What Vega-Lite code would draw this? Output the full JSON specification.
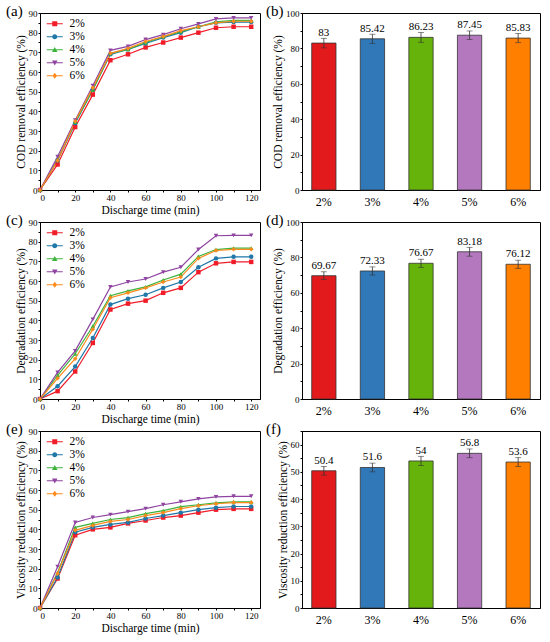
{
  "$schema": "https://vega.github.io/schema/vega-lite/v6.json",
  "background": "white",
  "padding": {"left": 5, "top": 3, "right": 4, "bottom": 4},
  "config": {
    "font": "Liberation Serif",
    "view": {"stroke": "#000", "strokeWidth": 1},
    "axis": {
      "grid": false, "domainColor": "#000", "tickColor": "#000", "labelColor": "#000", "titleColor": "#000",
      "labelFont": "Liberation Serif", "titleFont": "Liberation Serif", "labelFontSize": 9, "titleFontSize": 11.5,
      "titleFontWeight": "normal", "tickSize": 2, "labelPadding": 1, "titlePadding": 2, "labelOverlap": false
    },
    "legend": {
      "orient": "none", "legendX": 9, "legendY": 5, "labelFont": "Liberation Serif", "labelFontSize": 11.5,
      "labelFontWeight": "normal", "symbolSize": 100, "labelOffset": 9, "rowPadding": 0, "labelColor": "#000",
      "symbolStrokeWidth": 0
    },
    "title": {"font": "Liberation Serif", "fontWeight": "normal", "fontSize": 15, "color": "#000"}
  },
  "datasets": {
    "lines": [
      {"p": "a", "c": "2%", "t": 0, "v": 0}, {"p": "a", "c": "2%", "t": 10, "v": 13}, {"p": "a", "c": "2%", "t": 20, "v": 32}, {"p": "a", "c": "2%", "t": 30, "v": 48.5}, {"p": "a", "c": "2%", "t": 40, "v": 66}, {"p": "a", "c": "2%", "t": 50, "v": 69}, {"p": "a", "c": "2%", "t": 60, "v": 72.5}, {"p": "a", "c": "2%", "t": 70, "v": 75}, {"p": "a", "c": "2%", "t": 80, "v": 77.5}, {"p": "a", "c": "2%", "t": 90, "v": 80}, {"p": "a", "c": "2%", "t": 100, "v": 82.5}, {"p": "a", "c": "2%", "t": 110, "v": 83}, {"p": "a", "c": "2%", "t": 120, "v": 83},
      {"p": "a", "c": "3%", "t": 0, "v": 0}, {"p": "a", "c": "3%", "t": 10, "v": 15}, {"p": "a", "c": "3%", "t": 20, "v": 34}, {"p": "a", "c": "3%", "t": 30, "v": 51}, {"p": "a", "c": "3%", "t": 40, "v": 69}, {"p": "a", "c": "3%", "t": 50, "v": 71.5}, {"p": "a", "c": "3%", "t": 60, "v": 74.5}, {"p": "a", "c": "3%", "t": 70, "v": 77.5}, {"p": "a", "c": "3%", "t": 80, "v": 80}, {"p": "a", "c": "3%", "t": 90, "v": 83}, {"p": "a", "c": "3%", "t": 100, "v": 85}, {"p": "a", "c": "3%", "t": 110, "v": 85.4}, {"p": "a", "c": "3%", "t": 120, "v": 85.4},
      {"p": "a", "c": "4%", "t": 0, "v": 0}, {"p": "a", "c": "4%", "t": 10, "v": 15.5}, {"p": "a", "c": "4%", "t": 20, "v": 34.5}, {"p": "a", "c": "4%", "t": 30, "v": 51}, {"p": "a", "c": "4%", "t": 40, "v": 69.5}, {"p": "a", "c": "4%", "t": 50, "v": 71.5}, {"p": "a", "c": "4%", "t": 60, "v": 75}, {"p": "a", "c": "4%", "t": 70, "v": 78}, {"p": "a", "c": "4%", "t": 80, "v": 80.5}, {"p": "a", "c": "4%", "t": 90, "v": 83}, {"p": "a", "c": "4%", "t": 100, "v": 85.5}, {"p": "a", "c": "4%", "t": 110, "v": 86.2}, {"p": "a", "c": "4%", "t": 120, "v": 86.2},
      {"p": "a", "c": "5%", "t": 0, "v": 0}, {"p": "a", "c": "5%", "t": 10, "v": 17}, {"p": "a", "c": "5%", "t": 20, "v": 35.5}, {"p": "a", "c": "5%", "t": 30, "v": 53}, {"p": "a", "c": "5%", "t": 40, "v": 71}, {"p": "a", "c": "5%", "t": 50, "v": 73}, {"p": "a", "c": "5%", "t": 60, "v": 76.5}, {"p": "a", "c": "5%", "t": 70, "v": 79}, {"p": "a", "c": "5%", "t": 80, "v": 82}, {"p": "a", "c": "5%", "t": 90, "v": 84.5}, {"p": "a", "c": "5%", "t": 100, "v": 87}, {"p": "a", "c": "5%", "t": 110, "v": 87.5}, {"p": "a", "c": "5%", "t": 120, "v": 87.5},
      {"p": "a", "c": "6%", "t": 0, "v": 0}, {"p": "a", "c": "6%", "t": 10, "v": 15}, {"p": "a", "c": "6%", "t": 20, "v": 35}, {"p": "a", "c": "6%", "t": 30, "v": 52}, {"p": "a", "c": "6%", "t": 40, "v": 69.5}, {"p": "a", "c": "6%", "t": 50, "v": 72}, {"p": "a", "c": "6%", "t": 60, "v": 75.5}, {"p": "a", "c": "6%", "t": 70, "v": 78}, {"p": "a", "c": "6%", "t": 80, "v": 81}, {"p": "a", "c": "6%", "t": 90, "v": 83}, {"p": "a", "c": "6%", "t": 100, "v": 85}, {"p": "a", "c": "6%", "t": 110, "v": 85.8}, {"p": "a", "c": "6%", "t": 120, "v": 85.8},
      {"p": "c", "c": "2%", "t": 0, "v": 0}, {"p": "c", "c": "2%", "t": 10, "v": 4}, {"p": "c", "c": "2%", "t": 20, "v": 14}, {"p": "c", "c": "2%", "t": 30, "v": 28.5}, {"p": "c", "c": "2%", "t": 40, "v": 45.5}, {"p": "c", "c": "2%", "t": 50, "v": 48.5}, {"p": "c", "c": "2%", "t": 60, "v": 50}, {"p": "c", "c": "2%", "t": 70, "v": 54}, {"p": "c", "c": "2%", "t": 80, "v": 56.5}, {"p": "c", "c": "2%", "t": 90, "v": 64.5}, {"p": "c", "c": "2%", "t": 100, "v": 69}, {"p": "c", "c": "2%", "t": 110, "v": 69.7}, {"p": "c", "c": "2%", "t": 120, "v": 69.7},
      {"p": "c", "c": "3%", "t": 0, "v": 0}, {"p": "c", "c": "3%", "t": 10, "v": 6.5}, {"p": "c", "c": "3%", "t": 20, "v": 16.5}, {"p": "c", "c": "3%", "t": 30, "v": 31}, {"p": "c", "c": "3%", "t": 40, "v": 48}, {"p": "c", "c": "3%", "t": 50, "v": 51}, {"p": "c", "c": "3%", "t": 60, "v": 53}, {"p": "c", "c": "3%", "t": 70, "v": 56.5}, {"p": "c", "c": "3%", "t": 80, "v": 59.5}, {"p": "c", "c": "3%", "t": 90, "v": 67}, {"p": "c", "c": "3%", "t": 100, "v": 71.5}, {"p": "c", "c": "3%", "t": 110, "v": 72.3}, {"p": "c", "c": "3%", "t": 120, "v": 72.3},
      {"p": "c", "c": "4%", "t": 0, "v": 0}, {"p": "c", "c": "4%", "t": 10, "v": 12}, {"p": "c", "c": "4%", "t": 20, "v": 23}, {"p": "c", "c": "4%", "t": 30, "v": 37}, {"p": "c", "c": "4%", "t": 40, "v": 52.5}, {"p": "c", "c": "4%", "t": 50, "v": 55}, {"p": "c", "c": "4%", "t": 60, "v": 57}, {"p": "c", "c": "4%", "t": 70, "v": 60.5}, {"p": "c", "c": "4%", "t": 80, "v": 63.5}, {"p": "c", "c": "4%", "t": 90, "v": 72.5}, {"p": "c", "c": "4%", "t": 100, "v": 76}, {"p": "c", "c": "4%", "t": 110, "v": 76.7}, {"p": "c", "c": "4%", "t": 120, "v": 76.7},
      {"p": "c", "c": "5%", "t": 0, "v": 0}, {"p": "c", "c": "5%", "t": 10, "v": 13.5}, {"p": "c", "c": "5%", "t": 20, "v": 24.5}, {"p": "c", "c": "5%", "t": 30, "v": 40.5}, {"p": "c", "c": "5%", "t": 40, "v": 57}, {"p": "c", "c": "5%", "t": 50, "v": 59.5}, {"p": "c", "c": "5%", "t": 60, "v": 61}, {"p": "c", "c": "5%", "t": 70, "v": 64.5}, {"p": "c", "c": "5%", "t": 80, "v": 67}, {"p": "c", "c": "5%", "t": 90, "v": 76}, {"p": "c", "c": "5%", "t": 100, "v": 83}, {"p": "c", "c": "5%", "t": 110, "v": 83.2}, {"p": "c", "c": "5%", "t": 120, "v": 83.2},
      {"p": "c", "c": "6%", "t": 0, "v": 0}, {"p": "c", "c": "6%", "t": 10, "v": 10.5}, {"p": "c", "c": "6%", "t": 20, "v": 20.5}, {"p": "c", "c": "6%", "t": 30, "v": 35.5}, {"p": "c", "c": "6%", "t": 40, "v": 51.5}, {"p": "c", "c": "6%", "t": 50, "v": 54}, {"p": "c", "c": "6%", "t": 60, "v": 56.5}, {"p": "c", "c": "6%", "t": 70, "v": 59.5}, {"p": "c", "c": "6%", "t": 80, "v": 62}, {"p": "c", "c": "6%", "t": 90, "v": 71.5}, {"p": "c", "c": "6%", "t": 100, "v": 75.5}, {"p": "c", "c": "6%", "t": 110, "v": 76.1}, {"p": "c", "c": "6%", "t": 120, "v": 76.1},
      {"p": "e", "c": "2%", "t": 0, "v": 0}, {"p": "e", "c": "2%", "t": 10, "v": 15}, {"p": "e", "c": "2%", "t": 20, "v": 37}, {"p": "e", "c": "2%", "t": 30, "v": 40}, {"p": "e", "c": "2%", "t": 40, "v": 41}, {"p": "e", "c": "2%", "t": 50, "v": 43}, {"p": "e", "c": "2%", "t": 60, "v": 44.5}, {"p": "e", "c": "2%", "t": 70, "v": 46}, {"p": "e", "c": "2%", "t": 80, "v": 47}, {"p": "e", "c": "2%", "t": 90, "v": 48.5}, {"p": "e", "c": "2%", "t": 100, "v": 50}, {"p": "e", "c": "2%", "t": 110, "v": 50.4}, {"p": "e", "c": "2%", "t": 120, "v": 50.4},
      {"p": "e", "c": "3%", "t": 0, "v": 0}, {"p": "e", "c": "3%", "t": 10, "v": 15.5}, {"p": "e", "c": "3%", "t": 20, "v": 38.5}, {"p": "e", "c": "3%", "t": 30, "v": 41}, {"p": "e", "c": "3%", "t": 40, "v": 42.5}, {"p": "e", "c": "3%", "t": 50, "v": 43.5}, {"p": "e", "c": "3%", "t": 60, "v": 45.5}, {"p": "e", "c": "3%", "t": 70, "v": 47}, {"p": "e", "c": "3%", "t": 80, "v": 48.5}, {"p": "e", "c": "3%", "t": 90, "v": 50}, {"p": "e", "c": "3%", "t": 100, "v": 51}, {"p": "e", "c": "3%", "t": 110, "v": 51.6}, {"p": "e", "c": "3%", "t": 120, "v": 51.6},
      {"p": "e", "c": "4%", "t": 0, "v": 0}, {"p": "e", "c": "4%", "t": 10, "v": 18}, {"p": "e", "c": "4%", "t": 20, "v": 41}, {"p": "e", "c": "4%", "t": 30, "v": 43}, {"p": "e", "c": "4%", "t": 40, "v": 45}, {"p": "e", "c": "4%", "t": 50, "v": 46}, {"p": "e", "c": "4%", "t": 60, "v": 48}, {"p": "e", "c": "4%", "t": 70, "v": 49.5}, {"p": "e", "c": "4%", "t": 80, "v": 51.5}, {"p": "e", "c": "4%", "t": 90, "v": 52.5}, {"p": "e", "c": "4%", "t": 100, "v": 53.5}, {"p": "e", "c": "4%", "t": 110, "v": 54}, {"p": "e", "c": "4%", "t": 120, "v": 54},
      {"p": "e", "c": "5%", "t": 0, "v": 0}, {"p": "e", "c": "5%", "t": 10, "v": 21}, {"p": "e", "c": "5%", "t": 20, "v": 43.5}, {"p": "e", "c": "5%", "t": 30, "v": 46}, {"p": "e", "c": "5%", "t": 40, "v": 47.5}, {"p": "e", "c": "5%", "t": 50, "v": 49}, {"p": "e", "c": "5%", "t": 60, "v": 50.5}, {"p": "e", "c": "5%", "t": 70, "v": 52.5}, {"p": "e", "c": "5%", "t": 80, "v": 54}, {"p": "e", "c": "5%", "t": 90, "v": 55.5}, {"p": "e", "c": "5%", "t": 100, "v": 56.5}, {"p": "e", "c": "5%", "t": 110, "v": 56.8}, {"p": "e", "c": "5%", "t": 120, "v": 56.8},
      {"p": "e", "c": "6%", "t": 0, "v": 0}, {"p": "e", "c": "6%", "t": 10, "v": 17.5}, {"p": "e", "c": "6%", "t": 20, "v": 39.5}, {"p": "e", "c": "6%", "t": 30, "v": 42}, {"p": "e", "c": "6%", "t": 40, "v": 44}, {"p": "e", "c": "6%", "t": 50, "v": 45}, {"p": "e", "c": "6%", "t": 60, "v": 47}, {"p": "e", "c": "6%", "t": 70, "v": 48.5}, {"p": "e", "c": "6%", "t": 80, "v": 50.5}, {"p": "e", "c": "6%", "t": 90, "v": 52}, {"p": "e", "c": "6%", "t": 100, "v": 53}, {"p": "e", "c": "6%", "t": 110, "v": 53.6}, {"p": "e", "c": "6%", "t": 120, "v": 53.6}
    ],
    "bars": [
      {"p": "b", "c": "2%", "v": 83, "err": 2.7}, {"p": "b", "c": "3%", "v": 85.42, "err": 2.6}, {"p": "b", "c": "4%", "v": 86.23, "err": 2.8}, {"p": "b", "c": "5%", "v": 87.45, "err": 2.4}, {"p": "b", "c": "6%", "v": 85.83, "err": 2.6},
      {"p": "d", "c": "2%", "v": 69.67, "err": 2.2}, {"p": "d", "c": "3%", "v": 72.33, "err": 2.3}, {"p": "d", "c": "4%", "v": 76.67, "err": 2.3}, {"p": "d", "c": "5%", "v": 83.18, "err": 2.5}, {"p": "d", "c": "6%", "v": 76.12, "err": 2.3},
      {"p": "f", "c": "2%", "v": 50.4, "err": 1.6}, {"p": "f", "c": "3%", "v": 51.6, "err": 1.6}, {"p": "f", "c": "4%", "v": 54, "err": 1.7}, {"p": "f", "c": "5%", "v": 56.8, "err": 1.6}, {"p": "f", "c": "6%", "v": 53.6, "err": 1.6}
    ]
  },
  "vconcat": [
    {
      "hconcat": [
        {
          "title": {"text": "(a)", "anchor": "start", "frame": "group", "dx": -34, "offset": -10},
          "width": 220, "height": 177,
          "data": {"name": "lines"},
          "transform": [{"filter": "datum.p === 'a'"}],
          "encoding": {
            "x": {"field": "t", "type": "quantitative", "scale": {"domain": [0, 125], "nice": false},
              "axis": {"title": "Discharge time (min)", "values": [0, 10, 20, 30, 40, 50, 60, 70, 80, 90, 100, 110, 120], "labelExpr": "datum.value % 20 === 0 ? datum.label : ''"}},
            "y": {"field": "v", "type": "quantitative", "scale": {"domain": [0, 90], "nice": false},
              "axis": {"title": "COD removal efficiency (%)", "values": [0, 5, 10, 15, 20, 25, 30, 35, 40, 45, 50, 55, 60, 65, 70, 75, 80, 85, 90], "labelExpr": "datum.value % 10 === 0 ? datum.label : ''"}},
            "color": {"field": "c", "type": "nominal", "title": null,
              "scale": {"domain": ["2%", "3%", "4%", "5%", "6%"], "range": ["#f01c28", "#1f78a8", "#3cb43c", "#8e44a0", "#ff8a1c"]},
              "legend": {"encode": {"symbols": {"update": {
                "shape": {"signal": "datum.value === '2%' ? 'M-1.6,-0.1H1.6V0.1H-1.6Z M-0.5,-0.5H0.5V0.5H-0.5Z' : datum.value === '3%' ? 'M-1.6,-0.1H1.6V0.1H-1.6Z M-0.5,0A0.5,0.5 0 1,1 0.5,0A0.5,0.5 0 1,1 -0.5,0Z' : datum.value === '4%' ? 'M-1.6,-0.1H1.6V0.1H-1.6Z M0,-0.55L0.55,0.45H-0.55Z' : datum.value === '5%' ? 'M-1.6,-0.1H1.6V0.1H-1.6Z M0,0.55L-0.55,-0.45H0.55Z' : 'M-1.6,-0.1H1.6V0.1H-1.6Z M0,-0.6L0.45,0L0,0.6L-0.45,0Z'"},
                "fill": {"signal": "datum.value === '2%' ? '#f01c28' : datum.value === '3%' ? '#1f78a8' : datum.value === '4%' ? '#3cb43c' : datum.value === '5%' ? '#8e44a0' : '#ff8a1c'"},
                "stroke": {"value": "transparent"}, "strokeWidth": {"value": 0}, "opacity": {"value": 1}, "fillOpacity": {"value": 1}}}}}}
          },
          "layer": [
            {"mark": {"type": "line", "strokeWidth": 1.2}},
            {"transform": [{"filter": "datum.c === '2%'"}], "mark": {"type": "point", "shape": "square", "filled": true, "size": 20, "opacity": 1}},
            {"transform": [{"filter": "datum.c === '3%'"}], "mark": {"type": "point", "shape": "circle", "filled": true, "size": 20, "opacity": 1}},
            {"transform": [{"filter": "datum.c === '4%'"}], "mark": {"type": "point", "shape": "triangle-up", "filled": true, "size": 20, "opacity": 1}},
            {"transform": [{"filter": "datum.c === '5%'"}], "mark": {"type": "point", "shape": "triangle-down", "filled": true, "size": 20, "opacity": 1}},
            {"transform": [{"filter": "datum.c === '6%'"}], "mark": {"type": "point", "shape": "diamond", "filled": true, "size": 20, "opacity": 1}}
          ]
        },
        {
          "title": {"text": "(b)", "anchor": "start", "frame": "group", "dx": -36, "offset": -10},
          "width": 238, "height": 177,
          "data": {"name": "bars"},
          "transform": [{"filter": "datum.p === 'b'"}],
          "encoding": {
            "x": {"field": "c", "type": "nominal", "scale": {"paddingInner": 0.5, "paddingOuter": 0.2},
              "axis": {"title": null, "labelAngle": 0, "ticks": false, "labelFontSize": 12, "labelPadding": 6}},
            "y": {"field": "v", "type": "quantitative", "scale": {"domain": [0, 100], "nice": false},
              "axis": {"title": "COD removal efficiency (%)", "values": [0, 10, 20, 30, 40, 50, 60, 70, 80, 90, 100], "labelExpr": "datum.value % 20 === 0 ? datum.label : ''"}}
          },
          "layer": [
            {"mark": {"type": "bar", "stroke": "#333", "strokeWidth": 0.8},
              "encoding": {
                "color": {"field": "c", "type": "nominal", "legend": null,
                  "scale": {"domain": ["2%", "3%", "4%", "5%", "6%"], "range": ["#e31a1c", "#3078b8", "#66b30c", "#b478bf", "#ff7f00"]}}
              }},
            {"mark": {"type": "errorbar", "ticks": {"size": 6}, "color": "#333", "thickness": 0.8},
              "encoding": {"yError": {"field": "err"}}},
            {"mark": {"type": "text", "baseline": "alphabetic", "dy": -7, "fontSize": 11},
              "encoding": {"text": {"field": "v", "type": "quantitative"}}}
          ]
        }
      ],
      "spacing": 4,
      "resolve": {"scale": {"color": "independent"}}
    },
    {
      "hconcat": [
        {
          "title": {"text": "(c)", "anchor": "start", "frame": "group", "dx": -34, "offset": -10},
          "width": 220, "height": 177,
          "data": {"name": "lines"},
          "transform": [{"filter": "datum.p === 'c'"}],
          "encoding": {
            "x": {"field": "t", "type": "quantitative", "scale": {"domain": [0, 125], "nice": false},
              "axis": {"title": "Discharge time (min)", "values": [0, 10, 20, 30, 40, 50, 60, 70, 80, 90, 100, 110, 120], "labelExpr": "datum.value % 20 === 0 ? datum.label : ''"}},
            "y": {"field": "v", "type": "quantitative", "scale": {"domain": [0, 90], "nice": false},
              "axis": {"title": "Degradation efficiency (%)", "values": [0, 5, 10, 15, 20, 25, 30, 35, 40, 45, 50, 55, 60, 65, 70, 75, 80, 85, 90], "labelExpr": "datum.value % 10 === 0 ? datum.label : ''"}},
            "color": {"field": "c", "type": "nominal", "title": null,
              "scale": {"domain": ["2%", "3%", "4%", "5%", "6%"], "range": ["#f01c28", "#1f78a8", "#3cb43c", "#8e44a0", "#ff8a1c"]},
              "legend": {"encode": {"symbols": {"update": {
                "shape": {"signal": "datum.value === '2%' ? 'M-1.6,-0.1H1.6V0.1H-1.6Z M-0.5,-0.5H0.5V0.5H-0.5Z' : datum.value === '3%' ? 'M-1.6,-0.1H1.6V0.1H-1.6Z M-0.5,0A0.5,0.5 0 1,1 0.5,0A0.5,0.5 0 1,1 -0.5,0Z' : datum.value === '4%' ? 'M-1.6,-0.1H1.6V0.1H-1.6Z M0,-0.55L0.55,0.45H-0.55Z' : datum.value === '5%' ? 'M-1.6,-0.1H1.6V0.1H-1.6Z M0,0.55L-0.55,-0.45H0.55Z' : 'M-1.6,-0.1H1.6V0.1H-1.6Z M0,-0.6L0.45,0L0,0.6L-0.45,0Z'"},
                "fill": {"signal": "datum.value === '2%' ? '#f01c28' : datum.value === '3%' ? '#1f78a8' : datum.value === '4%' ? '#3cb43c' : datum.value === '5%' ? '#8e44a0' : '#ff8a1c'"},
                "stroke": {"value": "transparent"}, "strokeWidth": {"value": 0}, "opacity": {"value": 1}, "fillOpacity": {"value": 1}}}}}}
          },
          "layer": [
            {"mark": {"type": "line", "strokeWidth": 1.2}},
            {"transform": [{"filter": "datum.c === '2%'"}], "mark": {"type": "point", "shape": "square", "filled": true, "size": 20, "opacity": 1}},
            {"transform": [{"filter": "datum.c === '3%'"}], "mark": {"type": "point", "shape": "circle", "filled": true, "size": 20, "opacity": 1}},
            {"transform": [{"filter": "datum.c === '4%'"}], "mark": {"type": "point", "shape": "triangle-up", "filled": true, "size": 20, "opacity": 1}},
            {"transform": [{"filter": "datum.c === '5%'"}], "mark": {"type": "point", "shape": "triangle-down", "filled": true, "size": 20, "opacity": 1}},
            {"transform": [{"filter": "datum.c === '6%'"}], "mark": {"type": "point", "shape": "diamond", "filled": true, "size": 20, "opacity": 1}}
          ]
        },
        {
          "title": {"text": "(d)", "anchor": "start", "frame": "group", "dx": -36, "offset": -10},
          "width": 238, "height": 177,
          "data": {"name": "bars"},
          "transform": [{"filter": "datum.p === 'd'"}],
          "encoding": {
            "x": {"field": "c", "type": "nominal", "scale": {"paddingInner": 0.5, "paddingOuter": 0.2},
              "axis": {"title": null, "labelAngle": 0, "ticks": false, "labelFontSize": 12, "labelPadding": 6}},
            "y": {"field": "v", "type": "quantitative", "scale": {"domain": [0, 100], "nice": false},
              "axis": {"title": "Degradation efficiency (%)", "values": [0, 10, 20, 30, 40, 50, 60, 70, 80, 90, 100], "labelExpr": "datum.value % 20 === 0 ? datum.label : ''"}}
          },
          "layer": [
            {"mark": {"type": "bar", "stroke": "#333", "strokeWidth": 0.8},
              "encoding": {
                "color": {"field": "c", "type": "nominal", "legend": null,
                  "scale": {"domain": ["2%", "3%", "4%", "5%", "6%"], "range": ["#e31a1c", "#3078b8", "#66b30c", "#b478bf", "#ff7f00"]}}
              }},
            {"mark": {"type": "errorbar", "ticks": {"size": 6}, "color": "#333", "thickness": 0.8},
              "encoding": {"yError": {"field": "err"}}},
            {"mark": {"type": "text", "baseline": "alphabetic", "dy": -7, "fontSize": 11},
              "encoding": {"text": {"field": "v", "type": "quantitative"}}}
          ]
        }
      ],
      "spacing": 4,
      "resolve": {"scale": {"color": "independent"}}
    },
    {
      "hconcat": [
        {
          "title": {"text": "(e)", "anchor": "start", "frame": "group", "dx": -34, "offset": -10},
          "width": 220, "height": 177,
          "data": {"name": "lines"},
          "transform": [{"filter": "datum.p === 'e'"}],
          "encoding": {
            "x": {"field": "t", "type": "quantitative", "scale": {"domain": [0, 125], "nice": false},
              "axis": {"title": "Discharge time (min)", "values": [0, 10, 20, 30, 40, 50, 60, 70, 80, 90, 100, 110, 120], "labelExpr": "datum.value % 20 === 0 ? datum.label : ''"}},
            "y": {"field": "v", "type": "quantitative", "scale": {"domain": [0, 90], "nice": false},
              "axis": {"title": "Viscosity reduction efficiency (%)", "values": [0, 5, 10, 15, 20, 25, 30, 35, 40, 45, 50, 55, 60, 65, 70, 75, 80, 85, 90], "labelExpr": "datum.value % 10 === 0 ? datum.label : ''"}},
            "color": {"field": "c", "type": "nominal", "title": null,
              "scale": {"domain": ["2%", "3%", "4%", "5%", "6%"], "range": ["#f01c28", "#1f78a8", "#3cb43c", "#8e44a0", "#ff8a1c"]},
              "legend": {"encode": {"symbols": {"update": {
                "shape": {"signal": "datum.value === '2%' ? 'M-1.6,-0.1H1.6V0.1H-1.6Z M-0.5,-0.5H0.5V0.5H-0.5Z' : datum.value === '3%' ? 'M-1.6,-0.1H1.6V0.1H-1.6Z M-0.5,0A0.5,0.5 0 1,1 0.5,0A0.5,0.5 0 1,1 -0.5,0Z' : datum.value === '4%' ? 'M-1.6,-0.1H1.6V0.1H-1.6Z M0,-0.55L0.55,0.45H-0.55Z' : datum.value === '5%' ? 'M-1.6,-0.1H1.6V0.1H-1.6Z M0,0.55L-0.55,-0.45H0.55Z' : 'M-1.6,-0.1H1.6V0.1H-1.6Z M0,-0.6L0.45,0L0,0.6L-0.45,0Z'"},
                "fill": {"signal": "datum.value === '2%' ? '#f01c28' : datum.value === '3%' ? '#1f78a8' : datum.value === '4%' ? '#3cb43c' : datum.value === '5%' ? '#8e44a0' : '#ff8a1c'"},
                "stroke": {"value": "transparent"}, "strokeWidth": {"value": 0}, "opacity": {"value": 1}, "fillOpacity": {"value": 1}}}}}}
          },
          "layer": [
            {"mark": {"type": "line", "strokeWidth": 1.2}},
            {"transform": [{"filter": "datum.c === '2%'"}], "mark": {"type": "point", "shape": "square", "filled": true, "size": 20, "opacity": 1}},
            {"transform": [{"filter": "datum.c === '3%'"}], "mark": {"type": "point", "shape": "circle", "filled": true, "size": 20, "opacity": 1}},
            {"transform": [{"filter": "datum.c === '4%'"}], "mark": {"type": "point", "shape": "triangle-up", "filled": true, "size": 20, "opacity": 1}},
            {"transform": [{"filter": "datum.c === '5%'"}], "mark": {"type": "point", "shape": "triangle-down", "filled": true, "size": 20, "opacity": 1}},
            {"transform": [{"filter": "datum.c === '6%'"}], "mark": {"type": "point", "shape": "diamond", "filled": true, "size": 20, "opacity": 1}}
          ]
        },
        {
          "title": {"text": "(f)", "anchor": "start", "frame": "group", "dx": -36, "offset": -10},
          "width": 238, "height": 177,
          "data": {"name": "bars"},
          "transform": [{"filter": "datum.p === 'f'"}],
          "encoding": {
            "x": {"field": "c", "type": "nominal", "scale": {"paddingInner": 0.5, "paddingOuter": 0.2},
              "axis": {"title": null, "labelAngle": 0, "ticks": false, "labelFontSize": 12, "labelPadding": 6}},
            "y": {"field": "v", "type": "quantitative", "scale": {"domain": [0, 65], "nice": false},
              "axis": {"title": "Viscosity reduction efficiency (%)", "values": [0, 5, 10, 15, 20, 25, 30, 35, 40, 45, 50, 55, 60, 65], "labelExpr": "datum.value % 10 === 0 ? datum.label : ''"}}
          },
          "layer": [
            {"mark": {"type": "bar", "stroke": "#333", "strokeWidth": 0.8},
              "encoding": {
                "color": {"field": "c", "type": "nominal", "legend": null,
                  "scale": {"domain": ["2%", "3%", "4%", "5%", "6%"], "range": ["#e31a1c", "#3078b8", "#66b30c", "#b478bf", "#ff7f00"]}}
              }},
            {"mark": {"type": "errorbar", "ticks": {"size": 6}, "color": "#333", "thickness": 0.8},
              "encoding": {"yError": {"field": "err"}}},
            {"mark": {"type": "text", "baseline": "alphabetic", "dy": -7, "fontSize": 11},
              "encoding": {"text": {"field": "v", "type": "quantitative"}}}
          ]
        }
      ],
      "spacing": 4,
      "resolve": {"scale": {"color": "independent"}}
    }
  ],
  "spacing": -4,
  "resolve": {"scale": {"color": "independent"}}
}
